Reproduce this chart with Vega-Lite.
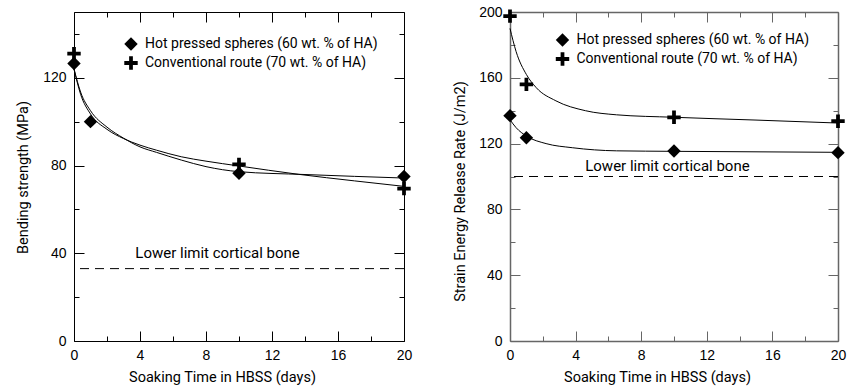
{
  "$schema": "https://vega.github.io/schema/vega-lite/v6.json",
  "background": "white",
  "padding": {"left": 15, "top": 5, "right": 5, "bottom": 5},
  "config": {
    "view": {"stroke": null},
    "font": "Roboto",
    "axis": {"domainColor": "black", "tickColor": "black", "labelFont": "Liberation Sans", "labelFontSize": 14, "labelColor": "black", "titleFont": "Roboto", "titleFontSize": 14.5, "titleFontWeight": "normal", "titleColor": "black", "grid": false, "labelFlush": false, "labelOverlap": false},
    "legend": {"orient": "none", "title": null, "labelFont": "Roboto", "labelFontSize": 14, "labelColor": "black", "labelLimit": 400, "symbolSize": 180, "symbolStrokeWidth": 0, "rowPadding": 5, "labelOffset": 7, "padding": 0, "symbolFillColor": "black"}
  },
  "resolve": {"scale": {"shape": "independent"}, "legend": {"shape": "independent"}},
  "datasets": {
    "leftPts": [
      {"series": "Hot pressed spheres (60 wt. % of HA)", "t": 0, "v": 126.5},
      {"series": "Hot pressed spheres (60 wt. % of HA)", "t": 1, "v": 100},
      {"series": "Hot pressed spheres (60 wt. % of HA)", "t": 10, "v": 76.5},
      {"series": "Hot pressed spheres (60 wt. % of HA)", "t": 20, "v": 75},
      {"series": "Conventional route (70 wt. % of HA)", "t": 0, "v": 131},
      {"series": "Conventional route (70 wt. % of HA)", "t": 10, "v": 80.5},
      {"series": "Conventional route (70 wt. % of HA)", "t": 20, "v": 69.5}
    ],
    "leftCurve": [
      {"series": "hot", "t": 0, "v": 124},
      {"series": "hot", "t": 0.4, "v": 113.5},
      {"series": "hot", "t": 1, "v": 105},
      {"series": "hot", "t": 2, "v": 97.5},
      {"series": "hot", "t": 3, "v": 92.5},
      {"series": "hot", "t": 4, "v": 88.5},
      {"series": "hot", "t": 5, "v": 86},
      {"series": "hot", "t": 6.5, "v": 82.5},
      {"series": "hot", "t": 8, "v": 79.5},
      {"series": "hot", "t": 10, "v": 77.2},
      {"series": "hot", "t": 14, "v": 75.9},
      {"series": "hot", "t": 20, "v": 74.3},
      {"series": "conv", "t": 0, "v": 124},
      {"series": "conv", "t": 0.4, "v": 112.5},
      {"series": "conv", "t": 1, "v": 103.5},
      {"series": "conv", "t": 2, "v": 96.5},
      {"series": "conv", "t": 3, "v": 92.3},
      {"series": "conv", "t": 4, "v": 89.3},
      {"series": "conv", "t": 5, "v": 87},
      {"series": "conv", "t": 6.5, "v": 84},
      {"series": "conv", "t": 8, "v": 82},
      {"series": "conv", "t": 10, "v": 79.8},
      {"series": "conv", "t": 13.6, "v": 76},
      {"series": "conv", "t": 17, "v": 73},
      {"series": "conv", "t": 20, "v": 70.5}
    ],
    "leftRef": [{"limit": 33, "label": "Lower limit cortical bone"}],
    "rightPts": [
      {"series": "Hot pressed spheres (60 wt. % of HA)", "t": 0, "v": 137},
      {"series": "Hot pressed spheres (60 wt. % of HA)", "t": 1, "v": 123.6},
      {"series": "Hot pressed spheres (60 wt. % of HA)", "t": 10, "v": 115.5},
      {"series": "Hot pressed spheres (60 wt. % of HA)", "t": 20, "v": 114.5},
      {"series": "Conventional route (70 wt. % of HA)", "t": 0, "v": 197.5},
      {"series": "Conventional route (70 wt. % of HA)", "t": 1, "v": 156},
      {"series": "Conventional route (70 wt. % of HA)", "t": 10, "v": 136},
      {"series": "Conventional route (70 wt. % of HA)", "t": 20, "v": 133.6}
    ],
    "rightCurve": [
      {"series": "conv", "t": 0, "v": 190},
      {"series": "conv", "t": 0.37, "v": 176},
      {"series": "conv", "t": 1, "v": 162},
      {"series": "conv", "t": 1.6, "v": 154},
      {"series": "conv", "t": 2.8, "v": 146},
      {"series": "conv", "t": 4.6, "v": 140},
      {"series": "conv", "t": 6.5, "v": 137.5},
      {"series": "conv", "t": 10, "v": 136},
      {"series": "conv", "t": 15, "v": 134.3},
      {"series": "conv", "t": 20, "v": 132.5},
      {"series": "hot", "t": 0, "v": 134.5},
      {"series": "hot", "t": 0.37, "v": 129.7},
      {"series": "hot", "t": 1, "v": 124.6},
      {"series": "hot", "t": 2.2, "v": 120},
      {"series": "hot", "t": 3.8, "v": 117.5},
      {"series": "hot", "t": 6.5, "v": 115.6},
      {"series": "hot", "t": 10, "v": 115.3},
      {"series": "hot", "t": 15, "v": 115},
      {"series": "hot", "t": 20, "v": 114.7}
    ],
    "rightRef": [{"limit": 100, "label": "Lower limit cortical bone"}]
  },
  "spacing": 40,
  "hconcat": [
    {
      "width": 330,
      "height": 329,
      "resolve": {"axis": {"x": "independent", "y": "independent"}},
      "layer": [
        {
          "data": {"name": "leftCurve"},
          "mark": {"type": "line", "interpolate": "monotone", "color": "black", "strokeWidth": 1},
          "encoding": {
            "x": {"field": "t", "type": "quantitative", "scale": {"domain": [0, 20], "nice": false},
              "axis": {"orient": "bottom", "values": [0, 2, 4, 6, 8, 10, 12, 14, 16, 18, 20], "labelExpr": "datum.value % 4 === 0 ? datum.label : ''", "tickSize": {"condition": {"test": "datum.value % 4 === 0", "value": -10}, "value": -5}, "labelPadding": 17, "title": "Soaking Time in HBSS (days)", "titleX": 148, "titleY": 29, "titleBaseline": "top"}},
            "y": {"field": "v", "type": "quantitative", "scale": {"domain": [0, 150], "nice": false},
              "axis": {"orient": "left", "values": [0, 20, 40, 60, 80, 100, 120, 140], "labelExpr": "datum.value % 40 === 0 ? datum.label : ''", "tickSize": {"condition": {"test": "datum.value % 40 === 0", "value": -10}, "value": -5}, "labelPadding": 18, "title": "Bending strength (MPa)", "titleAngle": 270, "titleX": -51, "titleY": 165, "titleAlign": "center", "titleBaseline": "middle"}},
            "detail": {"field": "series"}
          }
        },
        {
          "data": {"name": "leftPts"},
          "mark": {"type": "point", "filled": true, "color": "black", "opacity": 1, "strokeWidth": 0},
          "encoding": {
            "x": {"field": "t", "type": "quantitative", "axis": null},
            "y": {"field": "v", "type": "quantitative", "axis": null},
            "shape": {"field": "series", "type": "nominal",
              "scale": {"domain": ["Hot pressed spheres (60 wt. % of HA)", "Conventional route (70 wt. % of HA)"], "range": ["diamond", "M-1,-0.28H1V0.28H-1ZM-0.28,-1H0.28V1H-0.28Z"]},
              "legend": {"legendX": 50, "legendY": 25}},
            "size": {"value": 180}
          }
        },
        {
          "data": {"name": "leftRef"},
          "mark": {"type": "rule", "color": "black", "strokeWidth": 1, "strokeDash": [9, 6]},
          "encoding": {
            "y": {"field": "limit", "type": "quantitative",
              "axis": {"orient": "right", "values": [0, 20, 40, 60, 80, 100, 120, 140], "labels": false, "title": null, "tickSize": {"condition": {"test": "datum.value % 40 === 0", "value": -10}, "value": -5}}}
          }
        },
        {
          "data": {"name": "leftRef"},
          "mark": {"type": "text", "font": "Roboto", "fontSize": 15, "color": "black", "align": "center", "baseline": "middle"},
          "encoding": {
            "x": {"datum": 8.7, "type": "quantitative",
              "axis": {"orient": "top", "values": [0, 2, 4, 6, 8, 10, 12, 14, 16, 18, 20], "labels": false, "title": null, "tickSize": {"condition": {"test": "datum.value % 4 === 0", "value": -10}, "value": -5}}},
            "y": {"datum": 40, "type": "quantitative", "axis": null},
            "text": {"field": "label"}
          }
        }
      ]
    },
    {
      "width": 328,
      "height": 329,
      "resolve": {"axis": {"x": "independent", "y": "independent"}},
      "layer": [
        {
          "data": {"name": "rightCurve"},
          "mark": {"type": "line", "interpolate": "monotone", "color": "black", "strokeWidth": 1},
          "encoding": {
            "x": {"field": "t", "type": "quantitative", "scale": {"domain": [0, 20], "nice": false},
              "axis": {"orient": "bottom", "domainColor": "#666", "tickColor": "#666", "domainWidth": 1.5, "values": [0, 2, 4, 6, 8, 10, 12, 14, 16, 18, 20], "labelExpr": "datum.value % 4 === 0 ? datum.label : ''", "tickSize": {"condition": {"test": "datum.value % 4 === 0", "value": -10}, "value": -5}, "labelPadding": 17, "title": "Soaking Time in HBSS (days)", "titleX": 147, "titleY": 29, "titleBaseline": "top"}},
            "y": {"field": "v", "type": "quantitative", "scale": {"domain": [0, 200], "nice": false},
              "axis": {"orient": "left", "domainColor": "#666", "tickColor": "#666", "domainWidth": 1.5, "values": [0, 20, 40, 60, 80, 100, 120, 140, 160, 180, 200], "labelExpr": "datum.value % 40 === 0 ? datum.label : ''", "tickSize": {"condition": {"test": "datum.value % 40 === 0", "value": -10}, "value": -5}, "labelPadding": 18, "title": "Strain Energy Release Rate (J/m2)", "titleAngle": 270, "titleX": -50, "titleY": 179, "titleAlign": "center", "titleBaseline": "middle"}},
            "detail": {"field": "series"}
          }
        },
        {
          "data": {"name": "rightPts"},
          "mark": {"type": "point", "filled": true, "color": "black", "opacity": 1, "strokeWidth": 0},
          "encoding": {
            "x": {"field": "t", "type": "quantitative", "axis": null},
            "y": {"field": "v", "type": "quantitative", "axis": null},
            "shape": {"field": "series", "type": "nominal",
              "scale": {"domain": ["Hot pressed spheres (60 wt. % of HA)", "Conventional route (70 wt. % of HA)"], "range": ["diamond", "M-1,-0.28H1V0.28H-1ZM-0.28,-1H0.28V1H-0.28Z"]},
              "legend": {"legendX": 45.5, "legendY": 21}},
            "size": {"value": 180}
          }
        },
        {
          "data": {"name": "rightRef"},
          "mark": {"type": "rule", "color": "black", "strokeWidth": 1, "strokeDash": [9, 6]},
          "encoding": {
            "y": {"field": "limit", "type": "quantitative",
              "axis": {"orient": "right", "domainColor": "#666", "tickColor": "#666", "domainWidth": 1.5, "values": [0, 20, 40, 60, 80, 100, 120, 140, 160, 180, 200], "labels": false, "title": null, "tickSize": {"condition": {"test": "datum.value % 40 === 0", "value": -10}, "value": -5}}}
          }
        },
        {
          "data": {"name": "rightRef"},
          "mark": {"type": "text", "font": "Roboto", "fontSize": 15, "color": "black", "align": "center", "baseline": "middle"},
          "encoding": {
            "x": {"datum": 9.6, "type": "quantitative",
              "axis": {"orient": "top", "domainColor": "#666", "tickColor": "#666", "domainWidth": 1.5, "values": [0, 2, 4, 6, 8, 10, 12, 14, 16, 18, 20], "labels": false, "title": null, "tickSize": {"condition": {"test": "datum.value % 4 === 0", "value": -10}, "value": -5}}},
            "y": {"datum": 106.3, "type": "quantitative", "axis": null},
            "text": {"field": "label"}
          }
        }
      ]
    }
  ]
}
